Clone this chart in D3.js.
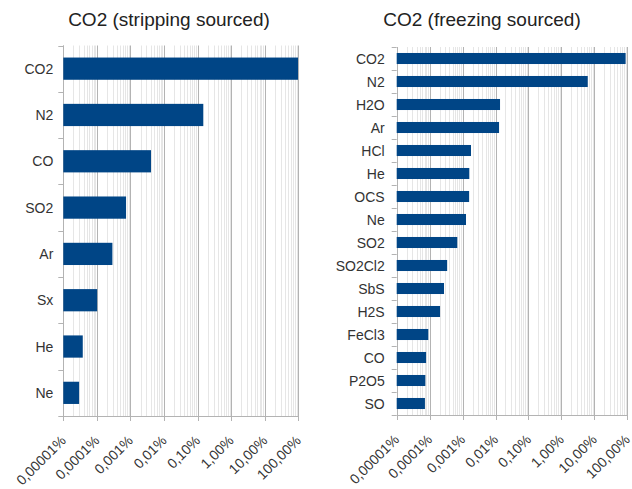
<!DOCTYPE html>
<html>
<head>
<meta charset="utf-8">
<script src="https://cdn.jsdelivr.net/npm/d3@7"></script>
<style>
  html, body { margin: 0; padding: 0; background: #fff; }
  svg { display: block; font-family: "Liberation Sans", Arial, sans-serif; }
</style>
</head>
<body>
<svg id="chart" width="632" height="489"></svg>
<script>
// ---- data (values in percent) ----
const strippingCategories = ["CO2", "N2", "CO", "SO2", "Ar", "Sx", "He", "Ne"];
const strippingValues = [98, 0.148, 0.0041, 0.00074, 0.00029, 0.000102, 0.000038, 0.0000296];

const freezingCategories = ["CO2", "N2", "H2O", "Ar", "HCl", "He", "OCS", "Ne", "SO2", "SO2Cl2", "SbS", "H2S", "FeCl3", "CO", "P2O5", "SO"];
const freezingValues = [89, 6.3, 0.0137, 0.0128, 0.0018, 0.0016, 0.00158, 0.00127, 0.00069, 0.00034, 0.000273, 0.000207, 0.000091, 0.000078, 0.000074, 0.000072];

const tickValues = [0.00001, 0.0001, 0.001, 0.01, 0.1, 1, 10, 100];
const tickLabels = ["0,00001%", "0,0001%", "0,001%", "0,01%", "0,10%", "1,00%", "10,00%", "100,00%"];

const titles = ["CO2 (stripping sourced)", "CO2 (freezing sourced)"];

const svg = d3.select("#chart");

function drawChart(opts) {
  const { categories, values, title, x0, x1, y0, y1, titleX, labelGap } = opts;
  const g = svg.append("g");

  const x = d3.scaleLog().domain([0.00001, 100]).range([x0, x1]);
  const y = d3.scaleBand().domain(categories).range([y0, y1]).paddingInner(0.52).paddingOuter(0.26);

  // minor gridlines
  const minor = [];
  for (let e = -5; e < 2; e++) {
    for (let m = 2; m <= 9; m++) minor.push(m * Math.pow(10, e));
  }
  g.selectAll("line.minor").data(minor).join("line")
    .attr("x1", d => Math.round(x(d)) + 0.5).attr("x2", d => Math.round(x(d)) + 0.5)
    .attr("y1", y0).attr("y2", y1)
    .attr("stroke", "#e6e6e6").attr("stroke-width", 1);

  // major gridlines
  g.selectAll("line.major").data(tickValues).join("line")
    .attr("x1", d => Math.round(x(d)) + 0.5).attr("x2", d => Math.round(x(d)) + 0.5)
    .attr("y1", y0).attr("y2", y1 + 5)
    .attr("stroke", "#b3b3b3").attr("stroke-width", 1);

  // category boundary ticks on the left
  const bounds = d3.range(categories.length + 1).map(i => y0 + i * (y1 - y0) / categories.length);
  g.selectAll("line.cat").data(bounds).join("line")
    .attr("x1", x0 - 5).attr("x2", x0)
    .attr("y1", d => Math.round(d) + 0.5).attr("y2", d => Math.round(d) + 0.5)
    .attr("stroke", "#b3b3b3");

  // axis lines
  g.append("line").attr("x1", Math.round(x0) + 0.5).attr("x2", Math.round(x0) + 0.5)
    .attr("y1", y0).attr("y2", y1).attr("stroke", "#b3b3b3");
  g.append("line").attr("x1", x0).attr("x2", x1)
    .attr("y1", Math.round(y1) + 0.5).attr("y2", Math.round(y1) + 0.5).attr("stroke", "#b3b3b3");

  // bars
  g.selectAll("rect.bar").data(categories).join("rect")
    .attr("x", x0)
    .attr("y", d => y(d))
    .attr("width", (d, i) => Math.max(0, x(values[i]) - x0))
    .attr("height", y.bandwidth())
    .attr("fill", "#004586");

  // category labels
  g.selectAll("text.cat").data(categories).join("text")
    .attr("x", x0 - labelGap)
    .attr("y", d => y(d) + y.bandwidth() / 2)
    .attr("dy", "0.36em")
    .attr("text-anchor", "end")
    .attr("font-size", 14)
    .attr("fill", "#333")
    .text(d => d);

  // tick labels (rotated)
  g.selectAll("text.tick").data(tickValues).join("text")
    .attr("transform", d => `translate(${x(d)},${y1 + 22}) rotate(-45)`)
    .attr("text-anchor", "end")
    .attr("dy", "0.35em")
    .attr("font-size", 14)
    .attr("fill", "#333")
    .text((d, i) => tickLabels[i]);

  // title
  g.append("text")
    .attr("x", titleX).attr("y", 26)
    .attr("text-anchor", "middle")
    .attr("font-size", 19)
    .attr("fill", "#222")
    .text(title);
}

drawChart({ categories: strippingCategories, values: strippingValues, title: titles[0],
  x0: 63.3, x1: 298.3, y0: 45.5, y1: 416, titleX: 169, labelGap: 10 });
drawChart({ categories: freezingCategories, values: freezingValues, title: titles[1],
  x0: 396.7, x1: 627.3, y0: 47, y1: 415, titleX: 482, labelGap: 12 });
</script>
</body>
</html>
